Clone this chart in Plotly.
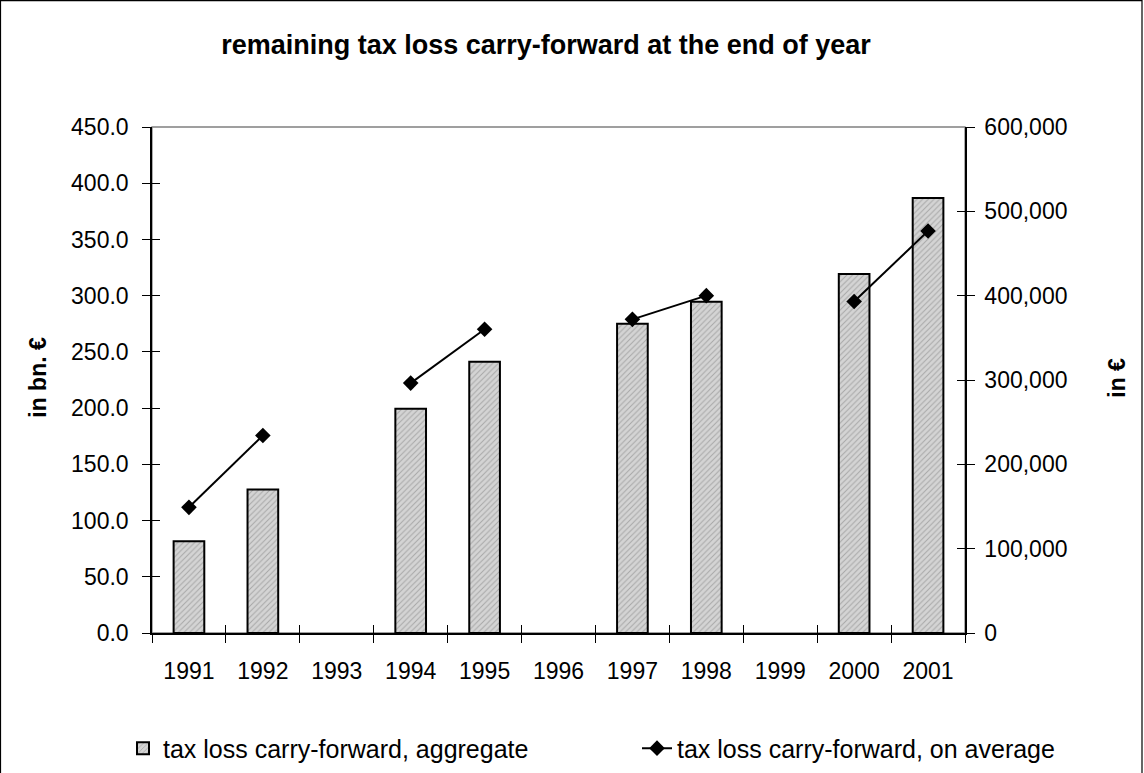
import plotly.graph_objects as go

years = ["1991", "1992", "1993", "1994", "1995", "1996", "1997", "1998", "1999", "2000", "2001"]
aggregate_bn = [81.5, 127.6, None, 199.5, 241.2, None, 275.0, 294.5, None, 319.3, 386.8]
average_eur = [149000, 234200, None, 296300, 360200, None, 371900, 400000, None, 393000, 476700]

left_ticks = [0, 50, 100, 150, 200, 250, 300, 350, 400, 450]
right_ticks = [0, 100000, 200000, 300000, 400000, 500000, 600000]

FONT = "Liberation Sans, Arial, sans-serif"

L, R, T, B = 152, 965, 127, 633.5
PW, PH = R - L, B - T

fig = go.Figure()
fig.add_trace(go.Bar(
    x=years, y=aggregate_bn, name="tax loss carry-forward, aggregate",
    width=0.415,
    marker=dict(color="#c8c8c8", line=dict(color="black", width=2),
                pattern=dict(shape="/", fgcolor="#7a7a7a", bgcolor="#d4d4d4", size=4, solidity=0.25)),
    yaxis="y", legend="legend",
))
fig.add_trace(go.Scatter(
    x=years, y=average_eur, name="tax loss carry-forward, on average",
    mode="lines+markers", connectgaps=False,
    line=dict(color="black", width=2),
    marker=dict(symbol="diamond", size=12, color="black"),
    yaxis="y2", legend="legend2",
))

axis_font = dict(family=FONT, size=23, color="black")
legend_font = dict(family=FONT, size=25, color="black")

fig.update_layout(
    width=1144, height=773,
    margin=dict(l=L, r=1144 - R, t=T, b=773 - B, autoexpand=False),
    paper_bgcolor="white", plot_bgcolor="white",
    font=dict(family=FONT, color="black"),
    title=dict(text="<b>remaining tax loss carry-forward at the end of year</b>",
               x=546 / 1144, xref="container", xanchor="center",
               y=1 - 45 / 773, yref="container", yanchor="middle",
               font=dict(family=FONT, size=27, color="black")),
    xaxis=dict(type="category", categoryorder="array", categoryarray=years,
               range=[-0.5, 10.5], tickson="boundaries", ticks="outside", ticklen=8,
               tickcolor="black", tickwidth=1, showline=True, linecolor="black", linewidth=1.5,
               showgrid=False, zeroline=False, tickfont=axis_font, automargin=False,
               ticklabelstandoff=17),
    yaxis=dict(range=[0, 450], tickvals=left_ticks, tickformat=".1f",
               ticks="outside", ticklen=8, tickcolor="black", showline=True,
               linecolor="black", linewidth=1.5, showgrid=False, zeroline=False,
               tickfont=axis_font, automargin=False, ticklabelstandoff=9),
    yaxis2=dict(range=[0, 600000], tickvals=right_ticks, tickformat=",.0f",
                overlaying="y", side="right", ticks="outside", ticklen=8,
                tickcolor="black", showline=True, linecolor="black", linewidth=1.5,
                showgrid=False, zeroline=False, tickfont=axis_font, automargin=False,
                ticklabelstandoff=5),
    yaxis3=dict(range=[0, 450], tickvals=left_ticks, overlaying="y", side="left",
                ticks="inside", ticklen=8, tickcolor="black", showticklabels=False,
                showline=False, showgrid=False, zeroline=False),
    yaxis4=dict(range=[0, 600000], tickvals=right_ticks, overlaying="y", side="right",
                ticks="inside", ticklen=8, tickcolor="black", showticklabels=False,
                showline=False, showgrid=False, zeroline=False),
    xaxis2=dict(type="category", categoryorder="array", categoryarray=years,
                range=[-0.5, 10.5], overlaying="x", side="bottom", tickson="boundaries",
                ticks="inside", ticklen=8, tickcolor="black", showticklabels=False,
                showline=False, showgrid=False, zeroline=False),
    legend=dict(orientation="h", x=(123 - L) / PW, xanchor="left",
                y=(B - 749) / PH, yanchor="middle",
                font=legend_font, bgcolor="rgba(0,0,0,0)", borderwidth=0),
    legend2=dict(orientation="h", x=(637 - L) / PW, xanchor="left",
                 y=(B - 749) / PH, yanchor="middle",
                 font=legend_font, bgcolor="rgba(0,0,0,0)", borderwidth=0),
    showlegend=True,
    shapes=[
        dict(type="rect", xref="paper", yref="paper", x0=0, x1=1, y0=0, y1=1,
             line=dict(color="#808080", width=1.3), layer="below"),
        dict(type="rect", xref="paper", yref="paper",
             x0=(0.5 - L) / PW, x1=(1142 - L) / PW,
             y0=(B - 790) / PH, y1=(B - 0.5) / PH,
             line=dict(color="black", width=1.2)),
    ],
    annotations=[
        dict(text="<b>in bn. €</b>", textangle=-90, xref="paper", yref="paper",
             x=(38 - L) / PW, y=(B - 378) / PH, showarrow=False,
             xanchor="center", yanchor="middle", font=dict(family=FONT, size=23, color="black")),
        dict(text="<b>in €</b>", textangle=-90, xref="paper", yref="paper",
             x=(1117 - L) / PW, y=(B - 378) / PH, showarrow=False,
             xanchor="center", yanchor="middle", font=dict(family=FONT, size=23, color="black")),
    ],
)

# invisible helper traces so overlay tick axes are rendered
fig.add_trace(go.Scatter(x=[years[0]], y=[None], xaxis="x2", yaxis="y3", showlegend=False, hoverinfo="skip"))
fig.add_trace(go.Scatter(x=[years[0]], y=[None], xaxis="x2", yaxis="y4", showlegend=False, hoverinfo="skip"))

fig.write_html("out.html", config={"displayModeBar": False},
               post_script="document.body.style.margin='0px';document.body.style.overflow='hidden';")
